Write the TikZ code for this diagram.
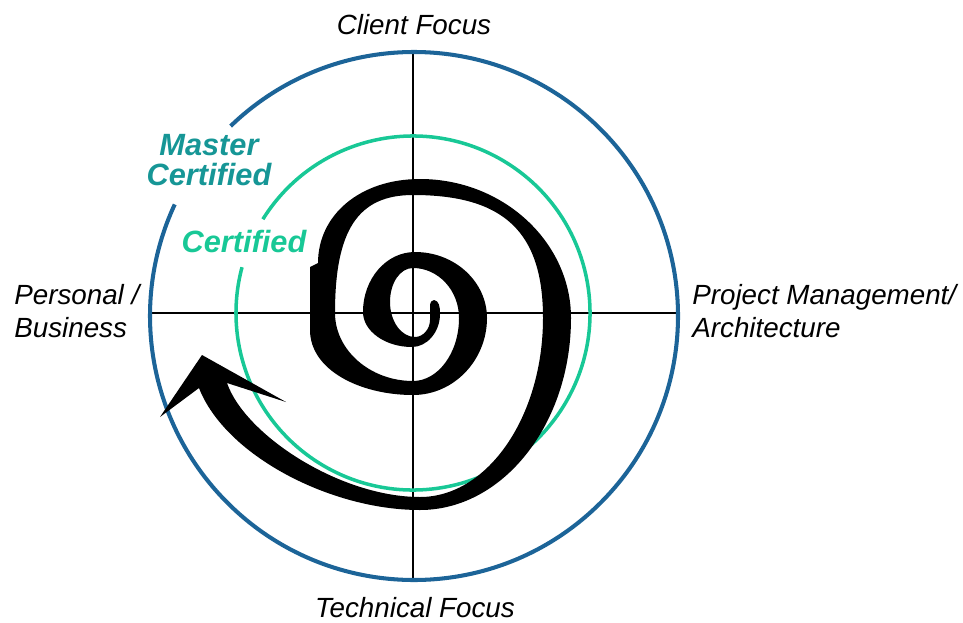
\documentclass[tikz,border=0pt]{standalone}
\usepackage{fontspec}
\setmainfont{Liberation Sans}
\usepackage{tikz}
\definecolor{ringblue}{RGB}{28,100,152}
\definecolor{ringgreen}{RGB}{24,200,150}
\definecolor{masterteal}{RGB}{22,150,150}

\begin{document}
\begin{tikzpicture}[x=0.02cm,y=-0.02cm,
  axis label/.style={font=\fontsize{15.8}{19}\selectfont\itshape, inner sep=0},
  level label/.style={font=\fontsize{17.5}{17}\selectfont\bfseries\itshape, inner sep=0},
  axis line/.style={line width=0.9pt}]
\useasboundingbox (0,0) rectangle (963,622);
\coordinate (o) at (413,313);
\coordinate (ob) at (414,316);

\coordinate (top) at (413,52);
\coordinate (bottom) at (413,580);
\coordinate (left) at (150,313);
\coordinate (right) at (678,313);
\draw[axis line] (top)--(bottom);
\draw[axis line] (left)--(right);

% rings, open where the labels cross them
\draw[ringblue, line width=2.3pt] (ob) ++(-134:264) arc[start angle=-134, end angle=205, radius=264];
\draw[ringgreen, line width=2pt] (o) ++(-148:177) arc[start angle=-148, end angle=195, radius=177];

% spiral with arrow head: outer edge out to the head, inner edge back to the hook
\fill[black] (434,300) .. controls (439,301) and (440,306) .. (440,314)
  .. controls (440,332) and (427,347) .. (412,347)
  .. controls (385,347) and (363,331) .. (363,312)
  .. controls (363,279) and (386,252) .. (415,252)
  .. controls (455,252) and (487,282) .. (487,318)
  .. controls (487,360) and (454,395) .. (413,395)
  .. controls (360,395) and (310,370) .. (310,330)
  -- (310,267) -- (318,263)
  .. controls (318,215) and (360,179) .. (420,179)
  .. controls (503,179) and (571,242) .. (571,318)
  .. controls (571,424) and (503,510) .. (420,510)
  .. controls (330,510) and (225,455) .. (199,388)
  -- (160,417) -- (202,355) -- (286,402) -- (227,383)
  .. controls (245,435) and (340,497) .. (420,497)
  .. controls (488,497) and (543,416) .. (543,318)
  .. controls (543,232) and (504,195) .. (413,195)
  .. controls (358,195) and (335,230) .. (335,313)
  .. controls (335,350) and (370,381) .. (413,381)
  .. controls (438,381) and (459,353) .. (459,318)
  .. controls (459,290) and (438,268) .. (413,268)
  .. controls (400,268) and (390,283) .. (390,302)
  .. controls (390,321) and (401,337) .. (415,337)
  .. controls (423,337) and (430,329) .. (430,320)
  -- (430,306) .. controls (430,302) and (432,300) .. (434,300) -- cycle;

\node[axis label, anchor=base](client) at (414,34) {Client Focus};
\node[axis label, anchor=base](technical) at (415,617) {Technical Focus};
\node[axis label, anchor=north west, align=left](personal) at (14,284) {Personal /\\Business};
\node[axis label, anchor=north west, align=left](project) at (692,284) {Project Management/\\Architecture};

\node[level label, text=masterteal, anchor=north, align=center](master) at (209,134) {Master\\Certified};
\node[level label, text=ringgreen, anchor=base](certified) at (244,252) {Certified};
\end{tikzpicture}
\end{document}
